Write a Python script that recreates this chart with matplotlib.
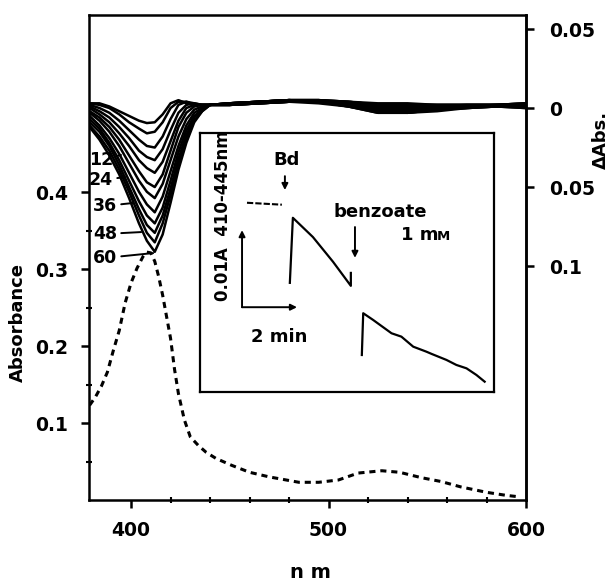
import matplotlib
matplotlib.use("Agg")
import matplotlib.pyplot as plt

# ---------------- data ----------------
# absolute spectrum (dashed), left axis "Absorbance"
wl_abs = [379, 382, 385, 388, 391, 394, 397, 400, 403, 406, 408, 410, 412, 414, 416,
          418, 420, 422, 424, 427, 430, 434, 438, 443, 451, 460, 470, 485, 495, 505,
          515, 527, 536, 547, 557, 567, 580, 590, 597]
absorb = [0.123, 0.134, 0.148, 0.166, 0.194, 0.220, 0.256, 0.282, 0.301, 0.316, 0.322,
          0.321, 0.310, 0.290, 0.266, 0.238, 0.210, 0.170, 0.138, 0.104, 0.082, 0.071,
          0.062, 0.054, 0.045, 0.036, 0.030, 0.023, 0.023, 0.026, 0.035, 0.038, 0.036,
          0.029, 0.024, 0.017, 0.010, 0.006, 0.004]

# difference spectra (right axis, dAbs), successive recordings
wl_diff = [379, 384, 389, 394, 399, 404, 408, 412, 416, 420, 424, 428, 432, 436, 440,
           450, 465, 480, 495, 510, 525, 540, 555, 570, 585, 600]
c01 = [0.003, 0.003, 0.001, -0.002, -0.005, -0.008, -0.0095, -0.009, -0.004, 0.003, 0.005, 0.003, 0.002, 0.002, 0.002,
       0.003, 0.004, 0.005, 0.005, 0.004, 0.003, 0.003, 0.002, 0.002, 0.002, 0.003]
c02 = [0.003, 0.002, 0.000, -0.004, -0.009, -0.013, -0.016, -0.015, -0.009, 0.000, 0.004, 0.004, 0.002, 0.002, 0.002,
       0.003, 0.004, 0.005, 0.005, 0.004, 0.002, 0.002, 0.002, 0.002, 0.002, 0.003]
c03 = [0.002, 0.000, -0.003, -0.008, -0.014, -0.020, -0.024, -0.025, -0.018, -0.007, 0.002, 0.004, 0.003, 0.002, 0.002,
       0.003, 0.004, 0.005, 0.005, 0.004, 0.002, 0.002, 0.002, 0.002, 0.002, 0.003]
c04 = [0.001, -0.002, -0.006, -0.012, -0.019, -0.027, -0.031, -0.033, -0.026, -0.014, -0.003, 0.002, 0.003, 0.002, 0.002,
       0.003, 0.004, 0.005, 0.005, 0.003, 0.001, 0.001, 0.001, 0.002, 0.002, 0.002]
c05 = [0.000, -0.004, -0.009, -0.016, -0.024, -0.033, -0.038, -0.041, -0.034, -0.021, -0.008, 0.000, 0.002, 0.002, 0.002,
       0.003, 0.004, 0.005, 0.004, 0.003, 0.000, 0.000, 0.001, 0.001, 0.002, 0.002]
c06 = [-0.002, -0.006, -0.012, -0.020, -0.030, -0.040, -0.047, -0.050, -0.042, -0.027, -0.012, -0.003, 0.001, 0.002, 0.002,
       0.003, 0.004, 0.005, 0.004, 0.003, 0.000, 0.000, 0.001, 0.001, 0.002, 0.002]
c07 = [-0.003, -0.008, -0.015, -0.024, -0.035, -0.046, -0.053, -0.057, -0.048, -0.033, -0.018, -0.007, -0.001, 0.001, 0.002,
       0.002, 0.004, 0.005, 0.004, 0.002, -0.001, -0.001, 0.000, 0.001, 0.001, 0.002]
c08 = [-0.005, -0.011, -0.019, -0.029, -0.041, -0.053, -0.061, -0.066, -0.056, -0.040, -0.024, -0.011, -0.003, 0.000, 0.002,
       0.002, 0.003, 0.004, 0.004, 0.002, -0.001, -0.002, 0.000, 0.001, 0.001, 0.001]
c09 = [-0.007, -0.013, -0.022, -0.033, -0.046, -0.059, -0.068, -0.073, -0.063, -0.046, -0.028, -0.014, -0.005, -0.001, 0.002,
       0.002, 0.003, 0.004, 0.004, 0.002, -0.002, -0.002, -0.001, 0.001, 0.001, 0.001]
c10 = [-0.009, -0.015, -0.024, -0.036, -0.050, -0.064, -0.074, -0.079, -0.068, -0.051, -0.032, -0.017, -0.006, -0.001, 0.002,
       0.002, 0.003, 0.004, 0.004, 0.001, -0.002, -0.003, -0.001, 0.000, 0.001, 0.001]
c11 = [-0.011, -0.018, -0.027, -0.039, -0.053, -0.068, -0.079, -0.085, -0.073, -0.055, -0.035, -0.019, -0.008, -0.002, 0.002,
       0.002, 0.003, 0.004, 0.004, 0.001, -0.003, -0.003, -0.001, 0.000, 0.001, 0.000]
c12 = [-0.012, -0.020, -0.030, -0.042, -0.057, -0.073, -0.084, -0.091, -0.080, -0.060, -0.039, -0.022, -0.009, -0.002, 0.002,
       0.002, 0.003, 0.004, 0.003, 0.001, -0.003, -0.003, -0.002, 0.000, 0.001, 0.000]
diff_curves = [c01, c02, c03, c04, c05, c06, c07, c08, c09, c10, c11, c12]

# labelled curves: label text, text position (nm, dAbs), pointed position (nm, dAbs)
curve_labels = ["12", "24", "36", "48", "60"]
label_xy = [(384.8, -0.0329), (384.8, -0.0456), (386.8, -0.0620), (386.8, -0.0797), (386.8, -0.0949)]
label_tip = [(394.9, -0.0297), (397.0, -0.0437), (401.0, -0.0601), (405.1, -0.0785), (411.2, -0.0918)]

# inset trace (time in min, signal in units of 0.01 A)
t_base = [1.71, 2.98]
s_base = [2.455, 2.43]
t_tr1 = [3.27, 3.38, 4.11, 4.84, 5.38, 5.49, 5.49]
s_tr1 = [1.416, 2.26, 2.01, 1.69, 1.43, 1.377, 1.545]
t_tr2 = [5.89, 5.94, 6.30, 6.97, 7.33, 7.76, 8.24, 8.43, 8.97, 9.33, 9.70, 10.06, 10.36]
s_tr2 = [0.48, 1.022, 0.935, 0.762, 0.718, 0.588, 0.523, 0.494, 0.416, 0.351, 0.307, 0.221, 0.134]

# ticks
x_major = [400, 500, 600]
x_minor = [420, 440, 460, 480, 520, 540, 560, 580]
yl_major = [0.1, 0.2, 0.3, 0.4]
yl_labels = ["0.1", "0.2", "0.3", "0.4"]
yl_minor = [0.05, 0.15, 0.25, 0.35]
yr_ticks = [0.05, 0.0, -0.05, -0.1]
yr_labels = ["0.05", "0", "0.05", "0.1"]

# ---------------- figure ----------------
W, H = 616, 581
fig = plt.figure(figsize=(W / 100, H / 100), dpi=100)
FONT = dict(family="DejaVu Sans", weight="bold")

ax = fig.add_axes([89 / W, 1 - 500 / H, (526 - 89) / W, (500 - 15) / H])
ax.set_xlim(378.7, 600)
ax.set_ylim(0, 0.63)
ax.plot(wl_abs, absorb, color="black", lw=2.2, linestyle=(0, (2.0, 1.6)))

for s in ax.spines.values():
    s.set_linewidth(1.8)
ax.set_xticks(x_major)
ax.set_xticks(x_minor, minor=True)
ax.set_yticks(yl_major)
ax.set_yticks(yl_minor, minor=True)
ax.set_yticklabels(yl_labels, fontsize=13.5, **FONT)
ax.set_xticklabels([str(v) for v in x_major], fontsize=13.5, **FONT)
ax.tick_params(which="major", direction="out", length=6, width=1.8)
ax.tick_params(axis="y", which="major", pad=9)
ax.tick_params(axis="x", which="major", pad=9)
ax.tick_params(which="minor", direction="inout", length=4, width=1.5)

ax2 = ax.twinx()
ax2.set_ylim(-0.2481, 0.0589)
for c in diff_curves:
    ax2.plot(wl_diff, c, color="black", lw=1.8, solid_joinstyle="round")
for s in ["top", "left", "bottom"]:
    ax2.spines[s].set_visible(False)
ax2.spines["right"].set_linewidth(1.8)
ax2.set_yticks(yr_ticks)
ax2.set_yticklabels(yr_labels, fontsize=13.5, **FONT)
ax2.tick_params(axis="y", direction="out", length=6, width=1.8, pad=11)

for lab, xy, tip in zip(curve_labels, label_xy, label_tip):
    ax2.annotate(lab, xy=tip, xytext=xy, ha="center", va="center", fontsize=12.5, **FONT,
                 arrowprops=dict(arrowstyle="-", lw=1.4, color="black", shrinkA=1, shrinkB=0))

fig.text(310 / W, 1 - 573 / H, "n m", ha="center", va="center", fontsize=14, **FONT)
fig.text(18 / W, 1 - 323 / H, "Absorbance", rotation=90, ha="center", va="center", fontsize=13, **FONT)
fig.text(601 / W, 1 - 140 / H, "\u0394Abs.", rotation=90, ha="center", va="center", fontsize=13, **FONT)

# ---------------- inset ----------------
ins = fig.add_axes([200 / W, 1 - 392 / H, (494 - 200) / W, (392 - 133) / H])
ins.set_xlim(0, 10.7)
ins.set_ylim(0, 3.36)
ins.set_xticks([])
ins.set_yticks([])
for s in ins.spines.values():
    s.set_linewidth(1.6)
ins.plot(t_base, s_base, color="black", lw=1.5, linestyle=(0, (3, 1)))
ins.plot(t_tr1, s_tr1, color="black", lw=1.6)
ins.plot(t_tr2, s_tr2, color="black", lw=1.6)

arw = dict(arrowstyle="-|>", lw=1.4, color="black", mutation_scale=9, shrinkA=0, shrinkB=0)
ins.annotate("", xy=(3.09, 2.62), xytext=(3.09, 2.80), arrowprops=arw)
ins.annotate("", xy=(5.64, 1.74), xytext=(5.64, 2.14), arrowprops=arw)
ins.annotate("", xy=(1.53, 2.10), xytext=(1.53, 1.10), arrowprops=arw)
ins.annotate("", xy=(3.53, 1.10), xytext=(1.53, 1.10), arrowprops=arw)
ins.text(3.16, 3.01, "Bd", ha="center", va="center", fontsize=13, **FONT)
ins.text(6.55, 2.34, "benzoate", ha="center", va="center", fontsize=13, **FONT)
ins.text(7.3, 2.04, "1 m", ha="left", va="center", fontsize=13, **FONT)
ins.text(8.62, 2.02, "M", ha="left", va="center", fontsize=9.5, **FONT)
ins.text(2.9, 0.71, "2 min", ha="center", va="center", fontsize=13, **FONT)
ins.text(0.84, 2.29, "0.01A  410-445nm", rotation=90, ha="center", va="center", fontsize=12, **FONT)

fig.savefig("out.png", dpi=100)
